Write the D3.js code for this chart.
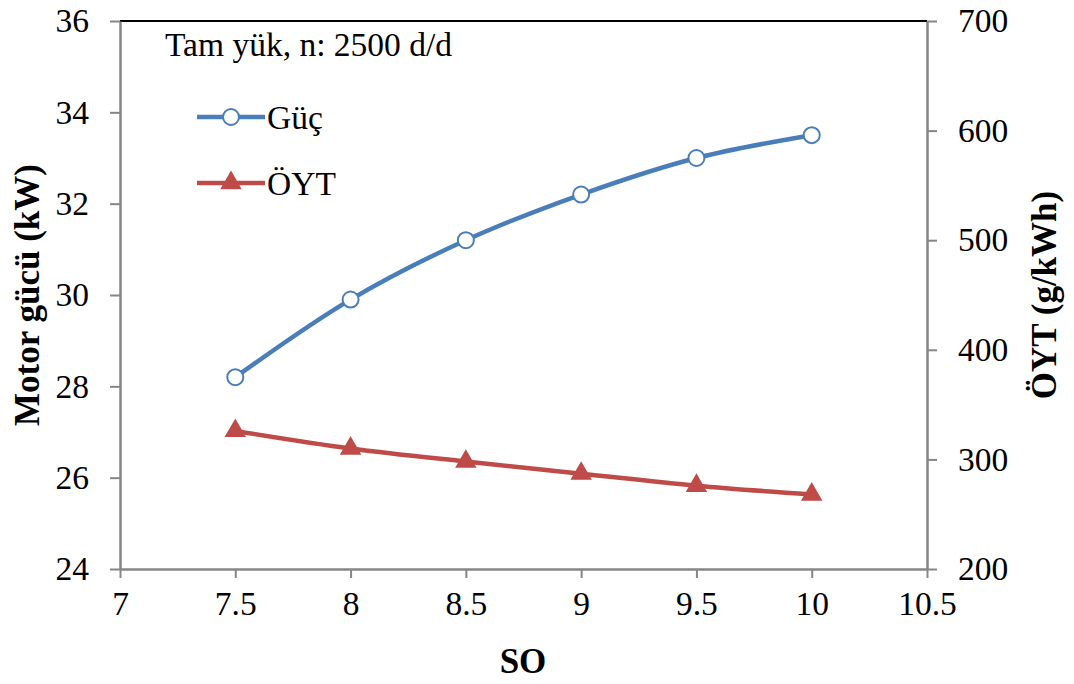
<!DOCTYPE html>
<html>
<head>
<meta charset="utf-8">
<script src="https://cdn.jsdelivr.net/npm/d3@7"></script>
<style>
  body { margin: 0; background: #fff; }
  svg text { font-family: "Liberation Serif", "Times New Roman", serif; fill: #000; }
</style>
</head>
<body>
<div id="chart"></div>
<script>
// Veriler
const so = [7.5, 8, 8.5, 9, 9.5, 10]
const guc = [28.2, 29.9, 31.2, 32.2, 33.0, 33.5]
const oyt = [326, 310, 298, 287, 276, 268]
const xTicks = [7, 7.5, 8, 8.5, 9, 9.5, 10, 10.5]
const yLeftTicks = [24, 26, 28, 30, 32, 34, 36]
const yRightTicks = [200, 300, 400, 500, 600, 700]

const width = 1074
const height = 684
const margin = { top: 21, right: 147, bottom: 115, left: 120 }
const colors = { guc: '#4a7ebb', oyt: '#be4b48', axis: '#868686' }
const fontSize = 33.5
const titleSize = 35

const svg = d3.select('#chart')
  .append('svg')
  .attr('width', width)
  .attr('height', height)

const x = d3.scaleLinear().domain([7, 10.5]).range([margin.left, width - margin.right])
const yL = d3.scaleLinear().domain([24, 36]).range([height - margin.bottom, margin.top])
const yR = d3.scaleLinear().domain([200, 700]).range([height - margin.bottom, margin.top])

// Üst çizgi
svg.append('line')
  .attr('x1', x(7)).attr('x2', x(10.5))
  .attr('y1', yL(36)).attr('y2', yL(36))
  .attr('stroke', '#000').attr('stroke-width', 2)

function styleAxis(g) {
  g.select('.domain').attr('stroke', colors.axis).attr('stroke-width', 2.5)
  g.selectAll('.tick line').attr('stroke', colors.axis).attr('stroke-width', 2)
  g.selectAll('.tick text')
    .attr('font-size', fontSize)
    .attr('font-family', '"Liberation Serif", serif')
    .attr('fill', '#000')
}

// X ekseni
svg.append('g')
  .attr('transform', `translate(0,${yL(24)})`)
  .call(d3.axisBottom(x).tickValues(xTicks).tickSize(9).tickSizeOuter(0).tickPadding(13).tickFormat(d3.format('')))
  .call(styleAxis)

// Sol Y ekseni
svg.append('g')
  .attr('transform', `translate(${x(7)},0)`)
  .call(d3.axisLeft(yL).tickValues(yLeftTicks).tickSize(10).tickSizeOuter(0).tickPadding(21))
  .call(styleAxis)

// Sağ Y ekseni
svg.append('g')
  .attr('transform', `translate(${x(10.5)},0)`)
  .call(d3.axisRight(yR).tickValues(yRightTicks).tickSize(10).tickSizeOuter(0).tickPadding(21))
  .call(styleAxis)

// Çizgiler
const lineGuc = d3.line()
  .x((d, i) => x(so[i]))
  .y(d => yL(d))
  .curve(d3.curveCatmullRom.alpha(0.5))

const lineOyt = d3.line()
  .x((d, i) => x(so[i]))
  .y(d => yR(d))
  .curve(d3.curveCatmullRom.alpha(0.5))

svg.append('path')
  .datum(guc)
  .attr('fill', 'none')
  .attr('stroke', colors.guc)
  .attr('stroke-width', 4.5)
  .attr('d', lineGuc)

svg.append('path')
  .datum(oyt)
  .attr('fill', 'none')
  .attr('stroke', colors.oyt)
  .attr('stroke-width', 4.5)
  .attr('d', lineOyt)

const tri = d3.symbol().type(d3.symbolTriangle).size(200)

// Noktalar
svg.selectAll('.dot-guc')
  .data(guc)
  .enter()
  .append('circle')
  .attr('class', 'dot-guc')
  .attr('cx', (d, i) => x(so[i]))
  .attr('cy', d => yL(d))
  .attr('r', 8)
  .attr('fill', '#fff')
  .attr('stroke', colors.guc)
  .attr('stroke-width', 2)

svg.selectAll('.dot-oyt')
  .data(oyt)
  .enter()
  .append('path')
  .attr('class', 'dot-oyt')
  .attr('transform', (d, i) => `translate(${x(so[i])},${yR(d)})`)
  .attr('d', tri)
  .attr('fill', colors.oyt)

// Başlık
svg.append('text')
  .attr('x', 165)
  .attr('y', 56)
  .attr('font-size', fontSize)
  .text('Tam yük, n: 2500 d/d')

// Lejant
const legend = [
  { name: 'Güç', color: colors.guc, y: 117, marker: 'circle' },
  { name: 'ÖYT', color: colors.oyt, y: 183, marker: 'triangle' }
]
legend.forEach(l => {
  const g = svg.append('g')
  g.append('line')
    .attr('x1', 197).attr('x2', 265)
    .attr('y1', l.y).attr('y2', l.y)
    .attr('stroke', l.color).attr('stroke-width', 4.5)
  if (l.marker === 'circle') {
    g.append('circle')
      .attr('cx', 231).attr('cy', l.y).attr('r', 8)
      .attr('fill', '#fff').attr('stroke', l.color).attr('stroke-width', 2)
  } else {
    g.append('path')
      .attr('transform', `translate(231,${l.y})`)
      .attr('d', tri)
      .attr('fill', l.color)
  }
  g.append('text')
    .attr('x', 267)
    .attr('y', l.y + 12)
    .attr('font-size', fontSize)
    .text(l.name)
})

// Eksen başlıkları
svg.append('text')
  .attr('x', 523)
  .attr('y', 673)
  .attr('text-anchor', 'middle')
  .attr('font-size', titleSize)
  .attr('font-weight', 'bold')
  .text('SO')

svg.append('text')
  .attr('transform', `translate(39,${yL(30)}) rotate(-90)`)
  .attr('text-anchor', 'middle')
  .attr('font-size', titleSize)
  .attr('font-weight', 'bold')
  .text('Motor gücü (kW)')

svg.append('text')
  .attr('transform', `translate(1056,${yL(30)}) rotate(-90)`)
  .attr('text-anchor', 'middle')
  .attr('font-size', titleSize)
  .attr('font-weight', 'bold')
  .text('ÖYT (g/kWh)')
</script>
</body>
</html>
